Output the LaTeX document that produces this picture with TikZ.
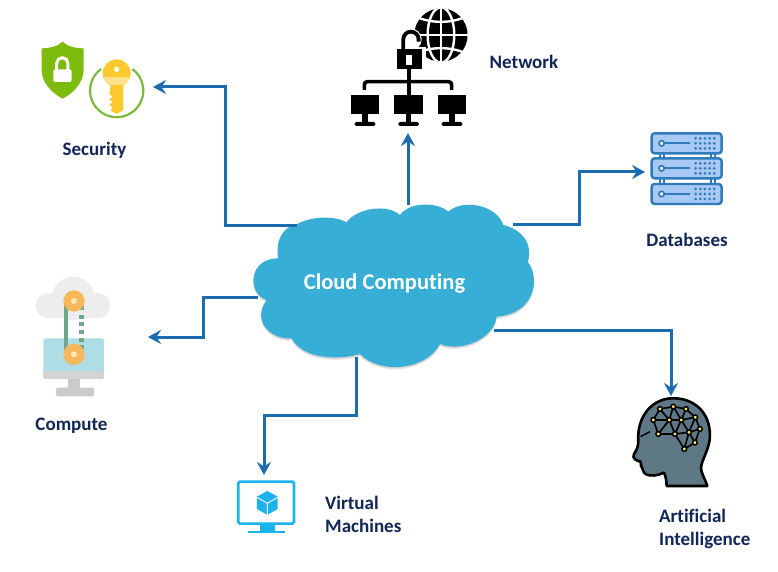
\documentclass[tikz,border=0pt]{standalone}
\usepackage{fontspec}
\setmainfont[Ligatures=NoCommon]{Carlito}
\usetikzlibrary{arrows.meta}
\definecolor{linkblue}{HTML}{1C6DB0}
\definecolor{navy}{HTML}{0F2657}
\definecolor{cloudblue}{HTML}{36AED5}
\definecolor{dbfill}{HTML}{A8C9F4}
\definecolor{dbline}{HTML}{2F7BBB}
\definecolor{vmblue}{HTML}{1CB3EC}
\definecolor{shield}{HTML}{7DBB0C}
\definecolor{keyy}{HTML}{FBC82D}
\definecolor{keyl}{HTML}{FFE28A}
\definecolor{ringg}{HTML}{7FB93A}
\definecolor{headc}{HTML}{5F7886}
\definecolor{tealg}{HTML}{6FA889}
\definecolor{orng}{HTML}{F6B85B}
\definecolor{creme}{HTML}{FDE9B8}
\definecolor{greyc}{HTML}{EDEDED}
\definecolor{scrn}{HTML}{AEDDE6}
\definecolor{greym}{HTML}{CBCBCB}
\tikzset{
  link/.style={draw=linkblue,line width=3pt,-{Stealth[length=13pt,width=14pt,inset=4.5pt]}},
  lbl/.style={text=navy,font=\fontsize{19}{22}\selectfont\bfseries,inner sep=0pt,anchor=base},
  lbll/.style={lbl,anchor=base west,align=left},
  zoomed/.style={x=.3333pt,y=-.3333pt}
}
\newcommand{\cloudpath}{(115,205) .. controls (105,150) and (130,110) .. (170,103)
 .. controls (210,80) and (280,75) .. (320,97)
 .. controls (350,55) and (440,40) .. (480,75)
 .. controls (510,35) and (590,35) .. (625,65)
 .. controls (670,25) and (770,45) .. (790,105)
 .. controls (850,120) and (880,165) .. (863,215)
 .. controls (900,260) and (890,370) .. (770,380)
 .. controls (765,440) and (670,490) .. (600,462)
 .. controls (560,540) and (420,555) .. (360,492)
 .. controls (300,510) and (190,510) .. (155,445)
 .. controls (90,450) and (35,390) .. (80,330)
 .. controls (20,310) and (25,205) .. (115,205) -- cycle}
\begin{document}
\begin{tikzpicture}[x=1pt,y=-1pt]
\useasboundingbox (0,0) rectangle (778,572);
\fill[white] (0,0) rectangle (778,572);
% ---- Security icon
\begin{scope}[zoomed,shift={(60,60)}]
 \fill[shield] (128,65) .. controls (115,78) and (90,85) .. (65,85) -- (65,150) .. controls (65,190) and (100,222) .. (128,236) .. controls (156,222) and (191,190) .. (191,150) -- (191,85) .. controls (165,85) and (140,78) .. (128,65) -- cycle;
 \draw[white,line width=3pt] (110,150) -- (110,130) arc (180:360:17) -- (144,150);
 \fill[white,rounded corners=2pt] (100,148) rectangle (155,186);
 \draw[ringg,line width=2.2pt] (243,147) arc (234:-54:80);
 \fill[keyy] (290,160) circle (42);
 \fill[keyl] (250,170) .. controls (270,172) and (310,172) .. (330,170) .. controls (325,190) and (305,203) .. (290,203) .. controls (275,203) and (255,190) .. (250,170) -- cycle;
 \fill[white] (290,148) circle (8);
 \fill[keyy] (272,195) -- (310,195) -- (310,270) -- (290,282) -- (272,272) -- (278,262) -- (268,254) -- (278,246) -- (268,238) -- (278,230) -- (268,222) -- cycle;
\end{scope}
% ---- Network icon
\begin{scope}[zoomed,shift={(1005,0)}]
 \fill[black] (318,105) circle (80);
 \begin{scope}
  \clip (318,105) circle (81);
  \draw[white,line width=2.4pt] (318,20) -- (318,190);
  \draw[white,line width=2.4pt] (318,105) ellipse (40 and 83);
  \draw[white,line width=2.4pt] (235,105) -- (400,105);
  \draw[white,line width=2.4pt] (248,52) .. controls (290,70) and (346,70) .. (388,52);
  \draw[white,line width=2.4pt] (248,158) .. controls (290,140) and (346,140) .. (388,158);
 \end{scope}
 \draw[white,line width=8pt] (228,118) circle (20);
 \fill[white] (172,140) rectangle (272,218);
 \draw[black,line width=3.8pt] (205,150) -- (205,118) arc (180:360:23) -- (251,125);
 \fill[black] (185,148) rectangle (262,208);
 \fill[white] (213,165) rectangle (230,195);
 \draw[black,line width=3.6pt] (222,208) -- (222,285);
 \draw[black,line width=3.6pt,rounded corners=3pt] (88,270) -- (88,245) -- (350,245) -- (350,270);
 \foreach \mx in {90,221,351}{
  \fill[black] (\mx-43,285) rectangle (\mx+43,343);
  \fill[black] (\mx-8,343) rectangle (\mx+8,368);
  \fill[black,rounded corners=1.5pt] (\mx-31,366) rectangle (\mx+31,378);
 }
\end{scope}
% ---- Databases icon
\begin{scope}[zoomed,shift={(1890,360)}]
 \foreach \cx in {90,102,243,255}{\draw[dbline,line width=1.8pt] (\cx,100) -- (\cx,192);}
 \foreach \ry in {40,115,192}{
  \draw[dbline,fill=dbfill,line width=2.4pt,rounded corners=3pt] (65,\ry) rectangle (275,\ry+60);
  \fill[white,draw=dbline,line width=1.7pt] (95,\ry+30) circle (8);
  \draw[dbline,line width=2pt] (103,\ry+30) -- (180,\ry+30);
  \foreach \dx in {197,211,225,239,253}{\foreach \dy in {15,30,45}{
    \fill[dbline] (\dx,\ry+\dy) circle (4.5);}}
 }
\end{scope}
% ---- Compute icon
\begin{scope}[zoomed,shift={(60,795)}]
 \fill[greyc] (160,100) circle (65);
 \fill[greyc] (85,122) circle (38);
 \fill[greyc] (232,122) circle (38);
 \fill[greyc] (85,130) rectangle (232,160);
 \fill[scrn,rounded corners=2.5pt] (70,220) rectangle (252,342);
 \fill[greym!85!white,rounded corners=2.5pt] (70,318) rectangle (252,342);
 \fill[greym] (143,342) rectangle (180,368);
 \fill[greym,rounded corners=2pt] (108,368) rectangle (222,394);
 \draw[tealg,line width=4.4pt] (138,108) -- (138,270);
 \foreach \dy in {130,155,178,200,225,247}{\fill[tealg] (178,\dy-6) rectangle (192,\dy+6);}
 \foreach \oy in {108,268}{
  \fill[orng] (162,\oy) circle (32);
  \fill[creme] (162,\oy) circle (9);
 }
\end{scope}
% ---- Virtual machine icon
\begin{scope}[zoomed,shift={(660,1395)}]
 \draw[vmblue,line width=2.7pt,rounded corners=1.5pt] (55,50) rectangle (222,176);
 \fill[vmblue] (120,176) rectangle (165,198);
 \fill[vmblue] (85,197) rectangle (195,205);
 \fill[vmblue] (142,78) -- (173,95) -- (173,132) -- (142,150) -- (111,132) -- (111,95) -- cycle;
 \draw[white,line width=.9pt] (111,97) -- (142,115) -- (173,97) (142,115) -- (142,150);
\end{scope}
% ---- AI head icon
\begin{scope}[zoomed,shift={(1860,1155)}]
 \draw[black,fill=headc,line width=2.6pt,line join=round] (140,303) .. controls (140,290) and (138,275) .. (132,263)
  .. controls (115,272) and (90,275) .. (78,268) .. controls (68,262) and (70,252) .. (66,247)
  .. controls (58,242) and (68,235) .. (62,230) .. controls (50,228) and (35,220) .. (42,208)
  .. controls (50,195) and (55,185) .. (55,170)
  .. controls (50,90) and (100,42) .. (155,40)
  .. controls (225,38) and (270,85) .. (270,150)
  .. controls (270,200) and (235,235) .. (245,260) .. controls (250,275) and (258,290) .. (262,303) -- cycle;
 \draw[black,line width=1.4pt] (62,155) .. controls (72,150) and (80,145) .. (90,140);
 \coordinate (n1) at (120,72); \coordinate (n2) at (160,65); \coordinate (n3) at (198,72);
 \coordinate (n4) at (226,97); \coordinate (n5) at (100,105); \coordinate (n6) at (148,105);
 \coordinate (n7) at (184,105); \coordinate (n8) at (240,132); \coordinate (n9) at (115,147);
 \coordinate (n10) at (165,147); \coordinate (n11) at (207,142); \coordinate (n12) at (225,173);
 \coordinate (n13) at (193,192);
 \draw[black,line width=1.7pt,line join=round] (n5) -- (n1) -- (n2) -- (n3) -- (n4) -- (n8) -- (n11) -- (n10) -- (n9) -- (n5) -- (n6) -- (n1)
   (n6) -- (n2) -- (n7) -- (n3) (n6) -- (n7) -- (n4) (n7) -- (n11) -- (n4) (n6) -- (n9) (n6) -- (n10) -- (n7) (n11) -- (n12) -- (n8) (n12) -- (n13) -- (n11) (n10) -- (n13);
 \foreach \nd in {n1,n2,n3,n4,n5,n6,n7,n8,n9,n10,n11,n12,n13}{
   \fill[keyl!60!yellow,draw=black,line width=1.5pt] (\nd) circle (7);}
\end{scope}
% ---- Cloud
\begin{scope}[zoomed,shift={(720,570)}]
 \fill[black,opacity=.10,transform canvas={yshift=-1.4pt}] \cloudpath;
 \fill[black,opacity=.08,transform canvas={yshift=-2.4pt}] \cloudpath;
 \fill[cloudblue] \cloudpath;
\end{scope}
\node[inner sep=0pt,text=white,anchor=base,font=\fontsize{22.5}{26}\selectfont\bfseries] (cloud) at (384.5,289) {Cloud Computing};
% ---- Anchors
\coordinate (cSec) at (297,225);  \coordinate (iSec) at (153,87);
\coordinate (cNet) at (408,205);  \coordinate (iNet) at (408,133);
\coordinate (cDb)  at (513,224);  \coordinate (iDb)  at (645,172);
\coordinate (cCmp) at (258,297);  \coordinate (iCmp) at (148,337);
\coordinate (cVm)  at (356,357);  \coordinate (iVm)  at (264,475);
\coordinate (cAi)  at (494,330);  \coordinate (iAi)  at (671,396);
\coordinate (jSec1) at (225,225); \coordinate (jSec2) at (225,87);
\coordinate (jDb1) at (579,224);  \coordinate (jDb2) at (579,172);
\coordinate (jCmp1) at (203,297); \coordinate (jCmp2) at (203,337);
\coordinate (jVm1) at (356,415);  \coordinate (jVm2) at (264,415);
\coordinate (jAi) at (671,330);
% ---- Connectors
\draw[link] (cSec) -- (jSec1) -- (jSec2) -- (iSec);
\draw[link] (cNet) -- (iNet);
\draw[link] (cDb) -- (jDb1) -- (jDb2) -- (iDb);
\draw[link] (cCmp) -- (jCmp1) -- (jCmp2) -- (iCmp);
\draw[link] (cVm) -- (jVm1) -- (jVm2) -- (iVm);
\draw[link] (cAi) -- (jAi) -- (iAi);
% ---- Labels
\node[lbl] (lSec) at (94.5,156) {Security};
\node[lbl] (lNet) at (524,69) {Network};
\node[lbl] (lDb) at (687,246) {Databases};
\node[lbl] (lCmp) at (71.5,430) {Compute};
\node[lbll] (lVm) at (325,509) {Virtual};
\node[lbll] (lVm2) at (325,532) {Machines};
\node[lbll] (lAi) at (659,522) {Artificial};
\node[lbll] (lAi2) at (659,545) {Intelligence};
\end{tikzpicture}
\end{document}
